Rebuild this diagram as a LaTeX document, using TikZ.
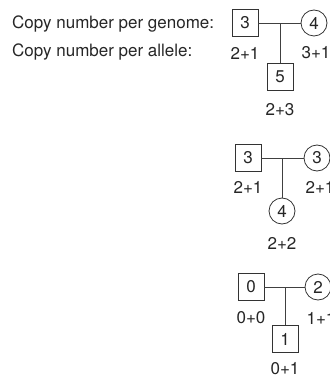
\documentclass[tikz,border=0pt]{standalone}
\usepackage{fontspec}
\setmainfont{TeX Gyre Heros}
\begin{document}
\begin{tikzpicture}[x=1pt,y=-1pt,
  every node/.style={font=\fontsize{17}{20}\selectfont, text=black!85, inner sep=0pt},
  male/.style={draw=black!80, line width=0.8pt, minimum width=26pt, minimum height=27pt},
  female/.style={draw=black!80, line width=0.8pt, circle, minimum size=26pt},
  lbl/.style={anchor=center},
  link/.style={draw=black!75, line width=0.8pt}]
\useasboundingbox (0,0) rectangle (329,379);
\node[anchor=west] (t1) at (12,24) {Copy number per genome:};
\node[anchor=west] (t2) at (12,52) {Copy number per allele:};
% group 1
\node[male] (f1) at (245,23) {3};
\node[female] (m1) at (314,23) {4};
\node[male] (c1) at (280,77) {5};
\node[lbl] (lf1) at (245,53) {2+1};
\node[lbl] (lm1) at (316,53) {3+1};
\node[lbl] (lc1) at (280,110) {2+3};
\draw[link] (f1.east) -- (m1.west);
\draw[link] (c1.north) -- (c1.north |- f1.east);
% group 2
\node[male] (f2) at (248,158) {3};
\node[female] (m2) at (317,158) {3};
\node[female] (c2) at (282,211) {4};
\node[lbl] (lf2) at (248,187) {2+1};
\node[lbl] (lm2) at (320,187) {2+1};
\node[lbl] (lc2) at (282,243) {2+2};
\draw[link] (f2.east) -- (m2.west);
\draw[link] (c2.north) -- (c2.north |- f2.east);
% group 3
\node[male] (f3) at (251,287) {0};
\node[female] (m3) at (318,287) {2};
\node[male] (c3) at (285,339) {1};
\node[lbl] (lf3) at (251,318) {0+0};
\node[lbl] (lm3) at (321,318) {1+1};
\node[lbl] (lc3) at (285,369) {0+1};
\draw[link] (f3.east) -- (m3.west);
\draw[link] (c3.north) -- (c3.north |- f3.east);
\end{tikzpicture}
\end{document}
